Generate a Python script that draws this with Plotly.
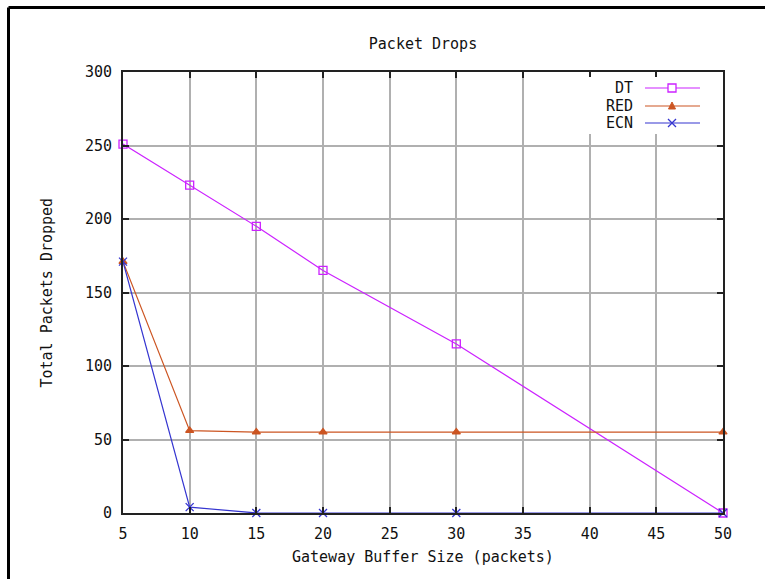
import plotly.graph_objects as go

buffer_sizes = [5, 10, 15, 20, 30, 50]
dt_drops = [251, 223, 195, 165, 115, 0]
red_drops = [171, 56, 55, 55, 55, 55]
ecn_drops = [171, 4, 0, 0, 0, 0]

series_names = ["DT", "RED", "ECN"]
series_colors = ["#cc22ff", "#cc5522", "#3535d0"]
series_symbols = ["square-open", "triangle-up", "x-thin-open"]
series_sizes = [8, 7, 8]

x_ticks = [5, 10, 15, 20, 25, 30, 35, 40, 45, 50]
y_ticks = [0, 50, 100, 150, 200, 250, 300]

FONT = "DejaVu Sans Mono"
W, H = 765, 579
L, R, T, B = 123, 42, 72, 66
PW, PH = W - L - R, H - T - B

def px(x):
    return (x - L) / PW

def py(y):
    return (H - B - y) / PH

fig = go.Figure()
for name, ys, col, sym, sz in zip(series_names, [dt_drops, red_drops, ecn_drops],
                                  series_colors, series_symbols, series_sizes):
    fig.add_trace(go.Scatter(
        x=buffer_sizes, y=ys, name=name, mode="lines+markers",
        line=dict(color=col, width=1.2),
        marker=dict(symbol=sym, size=sz, color=col, line=dict(color=col, width=1.3)),
        showlegend=False, cliponaxis=False,
    ))

axis_common = dict(
    showline=True, linecolor="#222222", linewidth=2, mirror="ticks",
    ticks="inside", ticklen=6, tickwidth=2, tickcolor="#222222",
    showgrid=True, gridcolor="#b0b0b0", gridwidth=1.5, zeroline=False,
    tickfont=dict(family=FONT, size=15, color="#111111"),
)

fig.update_xaxes(range=[5, 50], tickvals=x_ticks, ticklabelstandoff=6, **axis_common)
fig.update_yaxes(range=[0, 300], tickvals=y_ticks, ticklabelstandoff=6, **axis_common)

shapes = []
# legend background box covering grid
shapes.append(dict(type="rect", xref="paper", yref="paper",
                   x0=px(588), x1=px(712), y0=py(134), y1=py(77),
                   fillcolor="white", line=dict(width=0), layer="above"))
# outer frame (top and left)
shapes.append(dict(type="line", xref="paper", yref="paper",
                   x0=px(8.5), x1=px(8.5), y0=py(7.5), y1=py(600),
                   line=dict(color="black", width=3), layer="above"))
shapes.append(dict(type="line", xref="paper", yref="paper",
                   x0=px(8.5), x1=px(790), y0=py(7.5), y1=py(7.5),
                   line=dict(color="black", width=3), layer="above"))

annotations = []
legend_rows = [88, 106, 123]
for name, col, sym, sz, yy in zip(series_names, series_colors, series_symbols, series_sizes, legend_rows):
    shapes.append(dict(type="line", xref="paper", yref="paper",
                       x0=px(645), x1=px(700), y0=py(yy), y1=py(yy),
                       line=dict(color=col, width=1.2), layer="above"))
    annotations.append(dict(xref="paper", yref="paper", x=px(635), y=py(yy),
                            text=name, showarrow=False, xanchor="right", yanchor="middle",
                            font=dict(family=FONT, size=15, color="#111111")))

# legend marker glyphs
mx = px(672)
# square
shapes.append(dict(type="rect", xref="paper", yref="paper",
                   x0=mx - 4 / PW, x1=mx + 4 / PW, y0=py(88) - 4 / PH, y1=py(88) + 4 / PH,
                   line=dict(color=series_colors[0], width=1.3), fillcolor="white", layer="above"))
# triangle
ty = py(106)
shapes.append(dict(type="path", xref="paper", yref="paper",
                   path=f"M {mx - 3.5 / PW},{ty - 3 / PH} L {mx + 3.5 / PW},{ty - 3 / PH} L {mx},{ty + 4 / PH} Z",
                   line=dict(color=series_colors[1], width=1), fillcolor=series_colors[1], layer="above"))
# x
ey = py(123)
shapes.append(dict(type="path", xref="paper", yref="paper",
                   path=f"M {mx - 4 / PW},{ey - 4 / PH} L {mx + 4 / PW},{ey + 4 / PH} M {mx - 4 / PW},{ey + 4 / PH} L {mx + 4 / PW},{ey - 4 / PH}",
                   line=dict(color=series_colors[2], width=1.3), layer="above"))

# axis titles
annotations.append(dict(xref="paper", yref="paper", x=0.5, y=py(557),
                        text="Gateway Buffer Size (packets)", showarrow=False,
                        xanchor="center", yanchor="middle",
                        font=dict(family=FONT, size=15, color="#111111")))
annotations.append(dict(xref="paper", yref="paper", x=px(46), y=0.5,
                        text="Total Packets Dropped", showarrow=False, textangle=-90,
                        xanchor="center", yanchor="middle",
                        font=dict(family=FONT, size=15, color="#111111")))

fig.update_layout(
    width=W, height=H,
    margin=dict(l=L, r=R, t=T, b=B),
    paper_bgcolor="white", plot_bgcolor="white",
    title=dict(text="Packet Drops", x=0.5 * (L + (W - R)) / W, xanchor="center",
               y=1 - 44 / H, yanchor="middle", yref="container",
               font=dict(family=FONT, size=15, color="#111111")),
    shapes=shapes, annotations=annotations, showlegend=False,
)

fig.write_html("out.html")
